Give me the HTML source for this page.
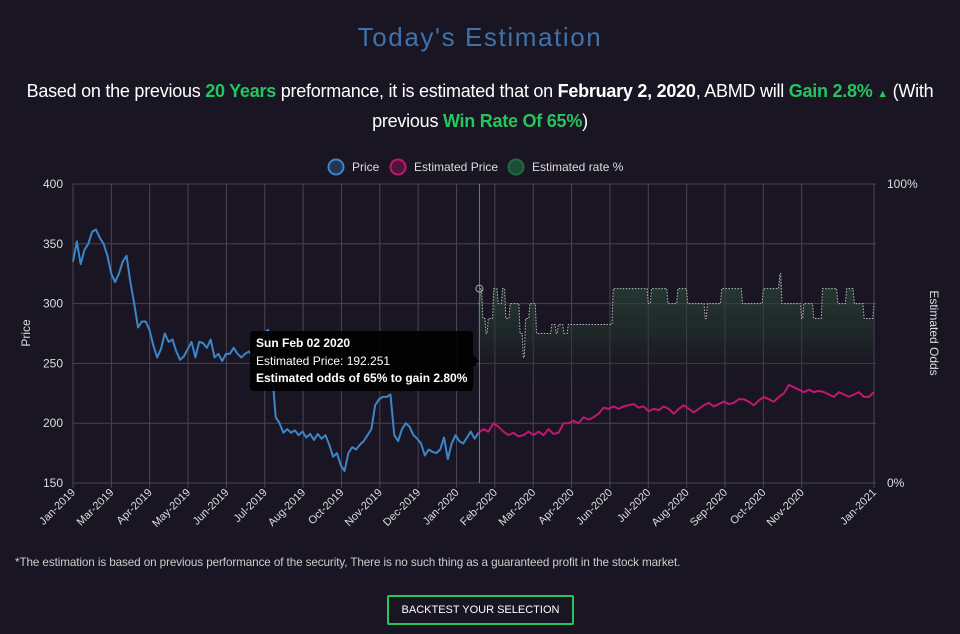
<!DOCTYPE html>
<html><head><meta charset="utf-8">
<style>
body{margin:0;background:#1a1522;width:960px;height:634px;overflow:hidden;font-family:"Liberation Sans",sans-serif;color:#fff}
.title{position:absolute;top:22px;width:960px;text-align:center;font-size:26px;color:#3e72aa;letter-spacing:1.6px}
.sub{position:absolute;top:78px;left:0;width:960px;text-align:center;font-size:18px;line-height:27px;color:#fff;letter-spacing:-0.25px}
.g{color:#22c55e;font-weight:bold}
.foot{position:absolute;top:556px;left:15px;font-size:11.7px;color:#ccc;letter-spacing:-0.1px}
.btn{position:absolute;left:387px;top:595px;width:183px;height:26px;border:2px solid #22c55e;border-radius:2px;font-size:11px;color:#fff;text-align:center;line-height:26px}
svg{position:absolute;left:0;top:0}
</style></head><body>
<div class="title">Today's Estimation</div>
<div class="sub">Based on the previous <span class="g">20 Years</span> preformance, it is estimated that on <b>February 2, 2020</b>, ABMD will <span class="g">Gain 2.8% <span style="font-size:11px">&#9650;</span></span> (With<br>previous <span class="g">Win Rate Of 65%</span>)</div>
<svg id="chart" width="960" height="540"></svg>
<div class="foot">*The estimation is based on previous performance of the security, There is no such thing as a guaranteed profit in the stock market.</div>
<div class="btn">BACKTEST YOUR SELECTION</div>
<script>
const xLabels=["Jan-2019","Mar-2019","Apr-2019","May-2019","Jun-2019","Jul-2019","Aug-2019","Oct-2019","Nov-2019","Dec-2019","Jan-2020","Feb-2020","Mar-2020","Apr-2020","Jun-2020","Jul-2020","Aug-2020","Sep-2020","Oct-2020","Nov-2020","Jan-2021"];
const xTickDays=[0,35,70,105,140,175,210,245,280,315,350,385,420,455,490,525,560,595,630,665,731];
const yTicks=[150,200,250,300,350,400];
const priceStartDay=0, priceEndDay=370;
const priceVals=[335,352,333,345,350,360,362,355,350,340,325,318,325,335,340,318,300,280,285,285,278,265,255,262,275,268,270,260,253,256,262,268,255,268,267,263,270,255,258,252,258,258,263,258,255,258,260,256,262,270,275,278,245,205,200,192,195,192,194,190,193,188,191,186,191,187,190,182,172,175,165,160,175,180,178,182,185,190,195,215,220,222,222,224,190,185,195,200,197,190,187,183,173,178,176,175,178,188,170,183,190,185,183,188,193,187,192];
const estStartDay=370, estEndDay=731;
const estVals=[192,195,193,200,197,193,190,192,189,190,193,190,193,190,195,191,192,200,200,202,200,205,203,205,208,213,212,214,212,214,215,216,213,214,210,212,211,214,212,208,212,215,212,209,212,215,217,214,216,218,216,217,220,220,218,215,219,222,220,218,222,225,232,230,228,226,228,226,227,226,224,222,226,224,222,224,226,222,222,226];
const rateDays=[370,372,374,377,379,384,388,392,395,399,408,411,413,417,423,437,441,443,448,452,459,493,525,528,543,545,552,561,577,579,592,611,630,645,647,665,667,676,684,698,706,713,722,731];
const rateVals=[60,65,55,50,55,65,60,65,55,60,50,42,55,60,50,53,50,53,50,53,53,65,60,65,60,60,65,60,55,60,65,60,65,70,60,55,60,55,65,60,65,60,55,60];

const NS="http://www.w3.org/2000/svg";
const svg=document.getElementById('chart');
const X0=73,X1=874,Y0=483,Y1=184,DAYS=731;
const xd=d=>X0+d/DAYS*(X1-X0);
const yp=p=>Y0-(p-150)/250*(Y0-Y1);
const yr=r=>Y0-r/100*(Y0-Y1);
function mk(t,a,parent){const e=document.createElementNS(NS,t);for(const k in a)e.setAttribute(k,a[k]);(parent||svg).appendChild(e);return e;}
const defs=mk('defs',{});
defs.innerHTML='<linearGradient id="rg" x1="0" y1="0" x2="0" y2="1"><stop offset="0" stop-color="#2c4a3c" stop-opacity="0.75"/><stop offset="0.3" stop-color="#22382e" stop-opacity="0.5"/><stop offset="0.55" stop-color="#1a1522" stop-opacity="0"/></linearGradient>';
yTicks.forEach(v=>{
 const l=mk('line',{x1:X0,x2:X1+2,y1:yp(v),y2:yp(v),stroke:'#4a4552','stroke-width':1});
 
 const t=mk('text',{x:63,y:yp(v)+4,'text-anchor':'end','font-size':12,fill:'#ddd'});t.textContent=v;
 
});
xLabels.forEach((s,i)=>{
 const x=xd(xTickDays[i]);
 const l=mk('line',{x1:x,x2:x,y1:Y1,y2:Y0+5,stroke:'#4a4552','stroke-width':1});
 
 const t=mk('text',{x:x+3,y:Y0+10,'text-anchor':'end','font-size':11,fill:'#ddd',transform:`rotate(-45 ${x+3} ${Y0+10})`});t.textContent=s;
 
});
[[100,'100%'],[0,'0%']].forEach(([v,s])=>{const t=mk('text',{x:887,y:yr(v)+4,'font-size':12,fill:'#ddd'});t.textContent=s;
 });
let t=mk('text',{x:30,y:333,'text-anchor':'middle','font-size':12,fill:'#ddd',transform:'rotate(-90 30 333)'});t.textContent='Price';

t=mk('text',{x:930,y:333,'text-anchor':'middle','font-size':12,fill:'#ddd',transform:'rotate(90 930 333)'});t.textContent='Estimated Odds';

let rp='';
rateDays.forEach((d,i)=>{const x=xd(d),y=yr(rateVals[i]);if(i==0)rp+=`M${x},${y}`;else rp+=`L${x-1.2},${yr(rateVals[i-1])}L${x},${y}`;});
const rf=mk('path',{d:rp+`V${Y0}H${xd(rateDays[0])}Z`,fill:'url(#rg)'});

const rl=mk('path',{d:rp,fill:'none',stroke:'#bbb','stroke-width':1,'stroke-dasharray':'1.5 1.5'});

function series(vals,s,e,col,name){
 const d=vals.map((v,i)=>(i?'L':'M')+xd(s+i*(e-s)/(vals.length-1))+','+yp(v)).join('');
 const p=mk('path',{d,fill:'none',stroke:col,'stroke-width':2,'stroke-linejoin':'round'});
 
}
series(priceVals,priceStartDay,priceEndDay,'#3a86c8','price-line');
series(estVals,estStartDay,estEndDay,'#c0186f','estimated-price-line');
const vl=mk('line',{x1:xd(370)+1,x2:xd(370)+1,y1:Y1,y2:Y0,stroke:'#3a86c8','stroke-width':1});

const hc=mk('circle',{cx:xd(370)+1,cy:yr(65),r:3.5,fill:'none',stroke:'#aaa','stroke-width':1});

[[333,'#3a86c8','rgba(58,134,200,0.3)','Price'],[395,'#c0186f','rgba(192,24,111,0.3)','Estimated Price'],[513,'#1f6b45','#1f4a35','Estimated rate %']].forEach(([x,c,f,s])=>{
 const g=mk('g',{});
 mk('circle',{cx:x+3,cy:167,r:7.5,fill:f,stroke:c,'stroke-width':2},g);
 const tt=mk('text',{x:x+19,y:171,'font-size':12,fill:'#ddd'},g);tt.textContent=s;
});
const tg=mk('g',{});
mk('rect',{x:250,y:331,width:223,height:60,rx:4,fill:'#000','fill-opacity':0.9},tg);
mk('path',{d:'M473,355 L479,361 L473,367Z',fill:'#000'},tg);
[['Sun Feb 02 2020',347,'bold'],['Estimated Price: 192.251',365,'normal'],['Estimated odds of 65% to gain 2.80%',382,'bold']].forEach(([s,y,w])=>{
 const tt=mk('text',{x:256,y,'font-size':12,fill:'#fff','font-weight':w},tg);tt.textContent=s;});
</script>
</body></html>
